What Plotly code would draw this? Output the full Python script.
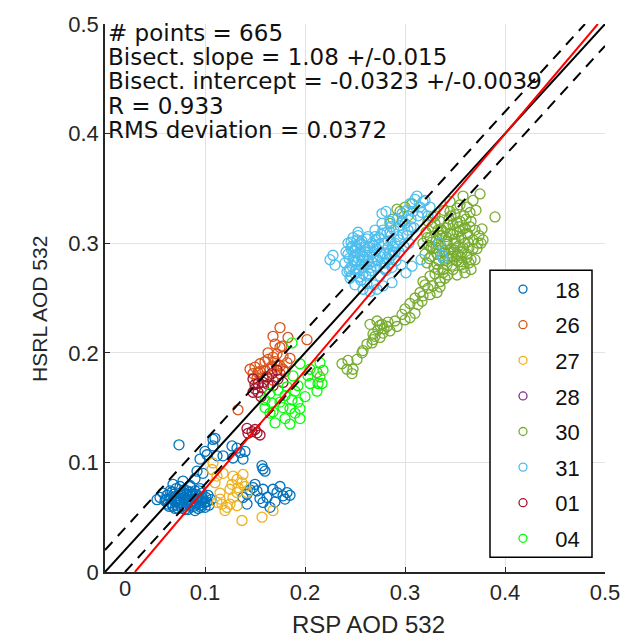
import plotly.graph_objects as go

# ---------------- data ----------------
groups = ["18", "26", "27", "28", "30", "31", "01", "04"]
colors = ["#0072BD", "#D95319", "#EDB120", "#7E2F8E", "#77AC30", "#4DBEEE", "#A2142F", "#00FF00"]

x18 = [0.055, 0.058, 0.060, 0.062, 0.063, 0.065, 0.066, 0.068, 0.069, 0.070, 0.071, 0.072, 0.073, 0.074, 0.075,
       0.076, 0.077, 0.078, 0.079, 0.080, 0.081, 0.082, 0.083, 0.084, 0.085, 0.086, 0.087, 0.088, 0.089, 0.090,
       0.091, 0.092, 0.093, 0.094, 0.095, 0.096, 0.097, 0.098, 0.099, 0.100, 0.101, 0.102, 0.104, 0.106, 0.090,
       0.075, 0.068, 0.085, 0.095, 0.078,
       0.074, 0.052, 0.095, 0.100, 0.108, 0.110, 0.108, 0.127, 0.132, 0.135, 0.140, 0.128, 0.138, 0.102, 0.112,
       0.118, 0.090, 0.085, 0.092, 0.098, 0.157, 0.160, 0.158,
       0.148, 0.152, 0.158, 0.168, 0.172, 0.178, 0.182, 0.180, 0.162, 0.142, 0.138, 0.142, 0.165, 0.158, 0.150,
       0.175, 0.185, 0.170, 0.155, 0.145,
       0.061, 0.064, 0.067, 0.070, 0.073, 0.076, 0.079, 0.082, 0.085, 0.088, 0.091, 0.094, 0.097, 0.100, 0.103,
       0.066, 0.072, 0.078, 0.084, 0.090, 0.096, 0.080, 0.087, 0.093, 0.070]
y18 = [0.068, 0.072, 0.065, 0.070, 0.062, 0.074, 0.067, 0.060, 0.071, 0.064, 0.076, 0.068, 0.058, 0.063, 0.072,
       0.066, 0.070, 0.061, 0.075, 0.067, 0.063, 0.071, 0.057, 0.066, 0.073, 0.062, 0.069, 0.065, 0.060, 0.071,
       0.067, 0.063, 0.058, 0.069, 0.065, 0.061, 0.072, 0.066, 0.063, 0.059, 0.068, 0.064, 0.061, 0.066, 0.056,
       0.078, 0.080, 0.078, 0.076, 0.083,
       0.116, 0.066, 0.103, 0.110, 0.115, 0.122, 0.121, 0.115, 0.113, 0.109, 0.110, 0.104, 0.103, 0.107, 0.106,
       0.106, 0.085, 0.079, 0.092, 0.090, 0.097, 0.092, 0.094,
       0.077, 0.074, 0.0755, 0.0755, 0.0725, 0.0695, 0.0725, 0.0665, 0.068, 0.071, 0.068, 0.062, 0.059, 0.0635, 0.080,
       0.078, 0.070, 0.064, 0.067, 0.075,
       0.066, 0.060, 0.073, 0.069, 0.065, 0.059, 0.068, 0.074, 0.060, 0.071, 0.062, 0.074, 0.068, 0.064, 0.070,
       0.063, 0.061, 0.072, 0.069, 0.074, 0.059, 0.057, 0.063, 0.067, 0.058]

x26 = [0.175, 0.183, 0.170, 0.177, 0.202, 0.172, 0.178, 0.163, 0.167, 0.155, 0.150, 0.153, 0.160, 0.172, 0.178,
       0.148, 0.162, 0.175, 0.133, 0.182, 0.168,
       0.155, 0.160, 0.165, 0.170, 0.158, 0.175, 0.180, 0.163, 0.175, 0.168, 0.185, 0.145, 0.152, 0.168]
y26 = [0.223, 0.214, 0.208, 0.206, 0.212, 0.199, 0.197, 0.194, 0.188, 0.190, 0.187, 0.182, 0.184, 0.188, 0.185,
       0.181, 0.178, 0.181, 0.148, 0.191, 0.175,
       0.183, 0.192, 0.185, 0.192, 0.178, 0.188, 0.183, 0.200, 0.205, 0.196, 0.195, 0.185, 0.177, 0.215]

x27 = [0.108, 0.107, 0.112, 0.110, 0.128, 0.132, 0.138, 0.137, 0.133, 0.132, 0.128, 0.115, 0.117, 0.122, 0.120,
       0.112, 0.125, 0.132, 0.137, 0.157, 0.168, 0.142, 0.125, 0.115, 0.140, 0.127, 0.118]
y27 = [0.0995, 0.0935, 0.0875, 0.0815, 0.0875, 0.0845, 0.089, 0.0815, 0.077, 0.0725, 0.068, 0.0665, 0.062, 0.059,
       0.056, 0.0635, 0.062, 0.0605, 0.047, 0.050, 0.056, 0.0725, 0.0755, 0.072, 0.078, 0.080, 0.090]

x28 = []
y28 = []

x30 = [0.318, 0.320, 0.321, 0.322, 0.323, 0.324, 0.325, 0.326, 0.327, 0.328, 0.329, 0.330, 0.331, 0.332, 0.333,
       0.334, 0.335, 0.336, 0.337, 0.338, 0.339, 0.340, 0.341, 0.342, 0.343, 0.344, 0.345, 0.346, 0.347, 0.348,
       0.349, 0.350, 0.351, 0.352, 0.353, 0.354, 0.355, 0.356, 0.357, 0.358, 0.359, 0.360, 0.361, 0.362, 0.363,
       0.364, 0.365, 0.366, 0.368, 0.370, 0.372, 0.374, 0.376, 0.378, 0.377, 0.373, 0.390, 0.375, 0.368, 0.358,
       0.362, 0.371, 0.365, 0.355, 0.345, 0.352, 0.360, 0.352, 0.348, 0.340, 0.335, 0.343, 0.356, 0.366, 0.370,
       0.335,
       0.300, 0.295, 0.307, 0.288, 0.297, 0.303, 0.292, 0.285,
       0.243, 0.248, 0.252, 0.257, 0.262, 0.267, 0.268, 0.273, 0.277, 0.282, 0.278, 0.285, 0.290, 0.292, 0.300,
       0.305, 0.310, 0.313, 0.318, 0.323, 0.328, 0.332, 0.325, 0.335, 0.317, 0.297, 0.272, 0.265, 0.275, 0.258,
       0.242, 0.247, 0.237, 0.270, 0.275, 0.279, 0.268, 0.283, 0.300, 0.305, 0.310, 0.315, 0.320, 0.325, 0.330,
       0.318, 0.342, 0.352, 0.362, 0.338, 0.212, 0.215,
       0.322, 0.326, 0.330, 0.334, 0.338, 0.342, 0.346, 0.350, 0.354, 0.358, 0.362, 0.366, 0.324, 0.328, 0.332,
       0.336, 0.340, 0.344, 0.348, 0.352, 0.356, 0.360, 0.364, 0.368, 0.327, 0.331, 0.335, 0.339, 0.343, 0.347,
       0.351, 0.355, 0.359, 0.363, 0.333, 0.341, 0.349, 0.357, 0.345, 0.353]
y30 = [0.300, 0.290, 0.310, 0.282, 0.320, 0.298, 0.305, 0.288, 0.315, 0.295, 0.278, 0.325, 0.302, 0.290, 0.312,
       0.284, 0.320, 0.297, 0.307, 0.276, 0.330, 0.292, 0.314, 0.302, 0.286, 0.322, 0.309, 0.295, 0.280, 0.317,
       0.300, 0.326, 0.288, 0.310, 0.297, 0.283, 0.320, 0.305, 0.292, 0.313, 0.278, 0.300, 0.322, 0.290, 0.308,
       0.296, 0.315, 0.285, 0.303, 0.312, 0.295, 0.307, 0.300, 0.303, 0.313, 0.300, 0.324, 0.345, 0.339, 0.343,
       0.333, 0.330, 0.328, 0.335, 0.338, 0.332, 0.273, 0.271, 0.276, 0.268, 0.265, 0.271, 0.280, 0.276, 0.285,
       0.260,
       0.333, 0.329, 0.336, 0.322, 0.320, 0.325, 0.331, 0.318,
       0.193, 0.185, 0.194, 0.200, 0.208, 0.209, 0.217, 0.221, 0.226, 0.224, 0.218, 0.220, 0.229, 0.224, 0.230,
       0.232, 0.236, 0.244, 0.252, 0.259, 0.261, 0.255, 0.253, 0.265, 0.247, 0.235, 0.229, 0.226, 0.214, 0.202,
       0.185, 0.181, 0.190, 0.215, 0.225, 0.222, 0.212, 0.228, 0.240, 0.245, 0.250, 0.255, 0.262, 0.270, 0.272,
       0.265, 0.280, 0.284, 0.287, 0.273, 0.182, 0.178,
       0.305, 0.296, 0.318, 0.293, 0.311, 0.299, 0.325, 0.304, 0.315, 0.296, 0.309, 0.320, 0.286, 0.324, 0.281,
       0.313, 0.284, 0.291, 0.308, 0.319, 0.287, 0.314, 0.282, 0.295, 0.301, 0.296, 0.307, 0.291, 0.317, 0.288,
       0.300, 0.311, 0.325, 0.301, 0.276, 0.306, 0.294, 0.283, 0.329, 0.290]

x31 = [0.228, 0.230, 0.225,
       0.240, 0.241, 0.242, 0.243, 0.244, 0.245, 0.246, 0.247, 0.248, 0.249, 0.250, 0.251, 0.252, 0.253, 0.254,
       0.255, 0.256, 0.257, 0.258, 0.259, 0.260, 0.261, 0.262, 0.263, 0.264, 0.265, 0.266, 0.267, 0.268, 0.269,
       0.270, 0.271, 0.272, 0.273, 0.274, 0.275, 0.276, 0.277, 0.278, 0.279, 0.280, 0.281, 0.282, 0.283, 0.284,
       0.285, 0.286, 0.287, 0.288, 0.289, 0.290, 0.291, 0.292, 0.293, 0.294, 0.295, 0.296, 0.297, 0.298, 0.299,
       0.300, 0.301, 0.302, 0.303, 0.304, 0.305, 0.306, 0.307, 0.308, 0.309, 0.310, 0.312, 0.313, 0.315, 0.316,
       0.317, 0.318, 0.320, 0.323, 0.325, 0.337, 0.338, 0.334,
       0.250, 0.258, 0.265, 0.272, 0.262, 0.277, 0.281, 0.270, 0.285, 0.278, 0.287, 0.253,
       0.245, 0.250, 0.255, 0.260, 0.248, 0.252, 0.258, 0.263, 0.246, 0.256,
       0.243, 0.247, 0.251, 0.255, 0.259, 0.263, 0.267, 0.271, 0.275, 0.279, 0.283, 0.287, 0.244, 0.248, 0.252,
       0.256, 0.260, 0.264, 0.268, 0.272, 0.276, 0.280, 0.284, 0.288, 0.246, 0.250, 0.254, 0.258, 0.262, 0.266,
       0.270, 0.274, 0.278, 0.282, 0.286, 0.290, 0.294, 0.298, 0.302, 0.306]
y31 = [0.289, 0.280, 0.285,
       0.282, 0.292, 0.274, 0.300, 0.286, 0.268, 0.295, 0.279, 0.305, 0.288, 0.272, 0.298, 0.283, 0.310, 0.276,
       0.292, 0.266, 0.302, 0.285, 0.278, 0.296, 0.270, 0.289, 0.306, 0.281, 0.293, 0.275, 0.300, 0.287, 0.262,
       0.312, 0.279, 0.295, 0.284, 0.305, 0.270, 0.291, 0.318, 0.282, 0.300, 0.290, 0.275, 0.310, 0.296, 0.285,
       0.320, 0.302, 0.278, 0.292, 0.312, 0.300, 0.284, 0.322, 0.306, 0.292, 0.316, 0.280, 0.327, 0.308, 0.297,
       0.318, 0.273, 0.330, 0.312, 0.300, 0.336, 0.322, 0.279, 0.329, 0.314, 0.340, 0.343, 0.325, 0.333, 0.285,
       0.328, 0.338, 0.339, 0.325, 0.333, 0.289, 0.286, 0.300,
       0.262, 0.258, 0.256, 0.258, 0.263, 0.327, 0.329, 0.306, 0.310, 0.261, 0.264, 0.307,
       0.277, 0.283, 0.289, 0.281, 0.293, 0.296, 0.272, 0.284, 0.270, 0.299,
       0.290, 0.297, 0.276, 0.300, 0.287, 0.296, 0.283, 0.303, 0.288, 0.277, 0.302, 0.289, 0.275, 0.284, 0.303,
       0.280, 0.292, 0.272, 0.298, 0.285, 0.308, 0.282, 0.291, 0.297, 0.301, 0.293, 0.269, 0.288, 0.304, 0.278,
       0.293, 0.299, 0.312, 0.287, 0.315, 0.292, 0.303, 0.320, 0.307, 0.315]

x01 = [0.147, 0.155, 0.143, 0.150, 0.142, 0.152, 0.150, 0.153, 0.148, 0.158, 0.162, 0.167, 0.172, 0.153, 0.148,
       0.168, 0.173, 0.178, 0.157, 0.163, 0.156, 0.150]
y01 = [0.128, 0.125, 0.1265, 0.130, 0.131, 0.127, 0.167, 0.172, 0.176, 0.173, 0.178, 0.181, 0.184, 0.164, 0.164,
       0.170, 0.176, 0.173, 0.168, 0.171, 0.160, 0.171]

x04 = [0.187, 0.195, 0.205, 0.215, 0.218, 0.213, 0.205, 0.217, 0.188, 0.182, 0.173, 0.165, 0.160, 0.167, 0.175,
       0.187, 0.193, 0.195, 0.190, 0.180, 0.170, 0.165, 0.195, 0.185, 0.180, 0.203,
       0.190, 0.200, 0.178, 0.168, 0.185, 0.193, 0.212, 0.160]
y04 = [0.209, 0.190, 0.185, 0.191, 0.184, 0.172, 0.172, 0.172, 0.179, 0.169, 0.166, 0.163, 0.157, 0.154, 0.155,
       0.157, 0.155, 0.149, 0.145, 0.140, 0.136, 0.145, 0.140, 0.149, 0.161, 0.179,
       0.165, 0.160, 0.150, 0.146, 0.135, 0.170, 0.165, 0.150]

xs = [x18, x26, x27, x28, x30, x31, x01, x04]
ys = [y18, y26, y27, y28, y30, y31, y01, y04]

# fit / reference lines
bis_slope = 1.08
bis_intercept = -0.0323
band = 0.02
axis_max = 0.5

stats_lines = ["# points = 665",
               "Bisect. slope = 1.08 +/-0.015",
               "Bisect. intercept = -0.0323 +/-0.0039",
               "R = 0.933",
               "RMS deviation = 0.0372"]

x_ticks = [0.1, 0.2, 0.3, 0.4, 0.5]
y_ticks = [0, 0.1, 0.2, 0.3, 0.4, 0.5]

# ---------------- figure ----------------
FONT = "Liberation Sans, Arial, Helvetica, sans-serif"
BOXFONT = "DejaVu Sans, sans-serif"
TXT = "#262626"
fig = go.Figure()

for name, c, xv, yv in zip(groups, colors, xs, ys):
    if xv:
        fig.add_trace(go.Scatter(
            x=xv, y=yv, mode="markers", name=name, showlegend=False,
            marker=dict(symbol="circle-open", size=10, color=c, line=dict(width=1.3, color=c)),
        ))

# 1:1 line and +/- band
fig.add_trace(go.Scatter(x=[0, axis_max], y=[0, axis_max], mode="lines",
                         line=dict(color="black", width=2), showlegend=False, hoverinfo="skip"))
fig.add_trace(go.Scatter(x=[0, axis_max - band], y=[band, axis_max], mode="lines",
                         line=dict(color="black", width=2, dash="11px,8px"), showlegend=False, hoverinfo="skip"))
fig.add_trace(go.Scatter(x=[band, axis_max], y=[0, axis_max - band], mode="lines",
                         line=dict(color="black", width=2, dash="11px,8px"), showlegend=False, hoverinfo="skip"))
# bisector fit
x0r = -bis_intercept / bis_slope
x1r = (axis_max - bis_intercept) / bis_slope
fig.add_trace(go.Scatter(x=[x0r, x1r], y=[bis_slope * x0r + bis_intercept, bis_slope * x1r + bis_intercept],
                         mode="lines", line=dict(color="#FF0000", width=2), showlegend=False, hoverinfo="skip"))

# legend entries (small markers, like the reference legend)
for name, c in zip(groups, colors):
    fig.add_trace(go.Scatter(
        x=[None], y=[None], mode="markers", name="\u00a0\u00a0" + name, legendgroup=name, showlegend=True,
        marker=dict(symbol="circle-open", size=8, color=c, line=dict(width=1.3, color=c)),
    ))

L, R, T, B = 105, 30, 18, 67
W, H = 635, 639
pw, ph = W - L - R, H - T - B

def py(p):
    return (H - B - p) / ph

def px(p):
    return (p - L) / pw

annotations = []
for i, s in enumerate(stats_lines):
    annotations.append(dict(text=s, xref="paper", yref="paper", x=px(106), y=py(27 + 24.5 * i),
                            xanchor="left", yanchor="middle", showarrow=False,
                            font=dict(family=BOXFONT, size=23, color="#111111")))
annotations.append(dict(text="0", xref="paper", yref="paper", x=px(125), y=py(589),
                        xanchor="center", yanchor="middle", showarrow=False,
                        font=dict(family=FONT, size=22, color=TXT)))
annotations.append(dict(text="RSP AOD 532", xref="paper", yref="paper", x=px(368), y=py(625),
                        xanchor="center", yanchor="middle", showarrow=False,
                        font=dict(family=FONT, size=24, color=TXT)))
annotations.append(dict(text="HSRL AOD 532", xref="paper", yref="paper", x=px(40), y=py(306),
                        xanchor="center", yanchor="middle", showarrow=False, textangle=-90,
                        font=dict(family=FONT, size=21, color=TXT)))

shapes = [dict(type="rect", xref="paper", yref="paper", x0=px(490), x1=px(592), y0=py(557), y1=py(267),
               line=dict(color="black", width=1.5), fillcolor="white", layer="above")]

axis_common = dict(range=[0, 0.5], showgrid=True, gridcolor="#e2e2e2", gridwidth=1, zeroline=False,
                   showline=True, linecolor=TXT, linewidth=1.5, ticks="inside", ticklen=5,
                   tickcolor=TXT, tickwidth=1, tickfont=dict(family=FONT, size=22, color=TXT))

fig.update_layout(
    width=W, height=H, margin=dict(l=L, r=R, t=T, b=B),
    paper_bgcolor="white", plot_bgcolor="white",
    xaxis=dict(**axis_common, tickvals=x_ticks, ticktext=[str(v) for v in x_ticks]),
    yaxis=dict(**axis_common, tickvals=y_ticks, ticktext=[str(v) for v in y_ticks]),
    showlegend=True,
    legend=dict(x=px(503), y=py(265), xanchor="left", yanchor="top", bgcolor="rgba(0,0,0,0)",
                borderwidth=0, tracegroupgap=4, font=dict(family=FONT, size=22, color="#111111"),
                itemsizing="trace"),
    annotations=annotations, shapes=shapes,
)

fig.write_html("out.html")
